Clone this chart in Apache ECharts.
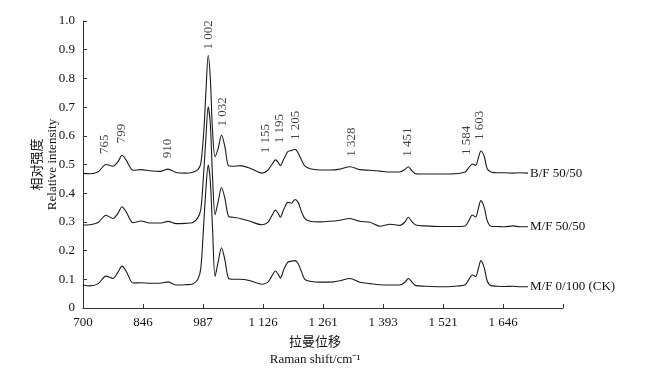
<!DOCTYPE html>
<html lang="zh">
<head>
    <meta charset="UTF-8">
    <title>Raman</title>
    <script src="https://cdn.jsdelivr.net/npm/echarts@6/dist/echarts.min.js"></script>
</head>
<body style="margin:0">
    <div id="ec" style="width:661px;height:371px"></div>
<script>
    // axis ticks of the figure are evenly spaced but their values are not
    var tickShift = [700, 846, 987, 1126, 1261, 1393, 1521, 1646, 1771]
    var tickText = ['700', '846', '987', '1 126', '1 261', '1 393', '1 521', '1 646', '']

    var shift = [700, 717, 737, 756, 773, 785, 795, 805, 822, 841, 862, 886, 905, 924, 945, 963, 975, 982, 989, 994,
        999, 1004, 1009, 1015, 1022, 1030, 1038, 1046, 1057, 1073, 1096, 1124, 1137, 1146, 1154, 1160, 1165, 1173, 1182, 1190,
        1198, 1205, 1213, 1220, 1232, 1254, 1276, 1298, 1320, 1342, 1364, 1386, 1408, 1429, 1440, 1447, 1455, 1463, 1482, 1515,
        1546, 1567, 1575, 1582, 1589, 1595, 1600, 1607, 1613, 1621, 1634, 1650, 1667, 1681, 1698]

    var bf = [0.469, 0.468, 0.475, 0.500, 0.494, 0.510, 0.532, 0.515, 0.480, 0.482, 0.478, 0.476, 0.484, 0.472, 0.470, 0.473, 0.482, 0.505, 0.62, 0.76,
        0.880, 0.80, 0.62, 0.527, 0.555, 0.603, 0.560, 0.496, 0.494, 0.496, 0.487, 0.470, 0.480, 0.500, 0.516, 0.508, 0.496, 0.520, 0.545, 0.549,
        0.553, 0.540, 0.515, 0.495, 0.485, 0.481, 0.481, 0.484, 0.492, 0.482, 0.480, 0.477, 0.474, 0.474, 0.483, 0.492, 0.478, 0.468, 0.467, 0.467,
        0.468, 0.474, 0.490, 0.502, 0.497, 0.525, 0.547, 0.528, 0.485, 0.474, 0.471, 0.471, 0.470, 0.471, 0.470]

    var mf = [0.289, 0.290, 0.298, 0.323, 0.312, 0.330, 0.353, 0.335, 0.297, 0.303, 0.296, 0.296, 0.302, 0.294, 0.295, 0.298, 0.315, 0.345, 0.48, 0.60,
        0.701, 0.64, 0.46, 0.325, 0.370, 0.420, 0.380, 0.320, 0.316, 0.312, 0.302, 0.290, 0.298, 0.322, 0.341, 0.330, 0.316, 0.345, 0.368, 0.365,
        0.378, 0.368, 0.335, 0.312, 0.302, 0.300, 0.302, 0.306, 0.312, 0.302, 0.299, 0.285, 0.292, 0.288, 0.300, 0.316, 0.300, 0.289, 0.286, 0.284,
        0.284, 0.286, 0.305, 0.324, 0.317, 0.350, 0.374, 0.350, 0.305, 0.285, 0.284, 0.283, 0.286, 0.283, 0.283]

    var ck = [0.080, 0.077, 0.085, 0.111, 0.103, 0.125, 0.146, 0.128, 0.087, 0.088, 0.086, 0.086, 0.091, 0.080, 0.081, 0.084, 0.100, 0.140, 0.30, 0.42,
        0.498, 0.44, 0.28, 0.110, 0.160, 0.210, 0.165, 0.104, 0.100, 0.100, 0.095, 0.083, 0.090, 0.112, 0.129, 0.118, 0.104, 0.135, 0.160, 0.163,
        0.165, 0.155, 0.125, 0.100, 0.093, 0.090, 0.090, 0.095, 0.103, 0.090, 0.085, 0.081, 0.080, 0.080, 0.090, 0.103, 0.090, 0.078, 0.076, 0.074,
        0.076, 0.081, 0.100, 0.115, 0.110, 0.140, 0.165, 0.140, 0.095, 0.078, 0.076, 0.075, 0.076, 0.074, 0.074]

    var peakText = ['765', '799', '910', '1 002', '1 032', '1 155', '1 195', '1 205', '1 328', '1 451', '1 584', '1 603']
    var peakShift = [753, 794, 903, 999, 1033, 1132, 1164, 1200, 1324, 1446, 1570, 1598]
    var peakY = [0.537, 0.574, 0.522, 0.901, 0.632, 0.539, 0.574, 0.585, 0.527, 0.527, 0.533, 0.585]

    var serif = '"Liberation Serif", "Noto Sans CJK SC", serif'

    function pos(s) {
        var i = 0
        while (i < tickShift.length - 2 && s > tickShift[i + 1]) i++
        return i + (s - tickShift[i]) / (tickShift[i + 1] - tickShift[i])
    }

    function spectrum(name, ys) {
        return {
            name: name,
            type: 'line',
            smooth: 0.3,
            symbol: 'none',
            lineStyle: { color: '#1a1a1a', width: 1.1 },
            data: shift.map(function (s, i) { return [pos(s), ys[i]] }),
            endLabel: { show: true, formatter: '{a}', color: '#111', fontFamily: serif, fontSize: 13, distance: 2 }
        }
    }

    var mychart = echarts.init(document.getElementById('ec'))
    var options = {
        animation: false,
        grid: { left: 83, right: 98, top: 21, bottom: 63, outerBoundsMode: 'none' },
        xAxis: {
            type: 'value',
            min: 0,
            max: 8,
            interval: 1,
            name: '拉曼位移\nRaman shift/cm⁻¹',
            nameLocation: 'middle',
            nameGap: 26,
            nameMoveOverlap: false,
            nameTextStyle: { color: '#111', fontFamily: serif, fontSize: 13, lineHeight: 17, padding: [0, 16, 0, 0] },
            axisLine: { lineStyle: { color: '#333' } },
            axisTick: { inside: true, length: 4, lineStyle: { color: '#333' } },
            axisLabel: { color: '#111', fontFamily: serif, fontSize: 13, formatter: function (v) { return tickText[v] } },
            splitLine: { show: false }
        },
        yAxis: {
            type: 'value',
            min: 0,
            max: 1,
            interval: 0.1,
            name: '相对强度\nRelative intensity',
            nameLocation: 'middle',
            nameRotate: 90,
            nameGap: 23,
            nameMoveOverlap: false,
            nameTextStyle: { color: '#111', fontFamily: serif, fontSize: 13, lineHeight: 15 },
            axisLine: { show: true, lineStyle: { color: '#333' } },
            axisTick: { show: true, inside: true, length: 4, lineStyle: { color: '#333' } },
            axisLabel: { color: '#111', fontFamily: serif, fontSize: 13, formatter: function (v) { return v === 0 ? '0' : v.toFixed(1) } },
            splitLine: { show: false }
        },
        series: [
            spectrum('B/F 50/50', bf),
            spectrum('M/F 50/50', mf),
            spectrum('M/F 0/100 (CK)', ck),
            {
                type: 'scatter',
                symbolSize: 0,
                silent: true,
                data: peakShift.map(function (s, i) {
                    return { value: [pos(s), peakY[i]], label: { formatter: peakText[i] } }
                }),
                label: {
                    show: true,
                    position: [0, 0],
                    rotate: 90,
                    align: 'left',
                    verticalAlign: 'middle',
                    color: '#111',
                    fontFamily: serif,
                    fontSize: 13
                }
            }
        ]
    }
    mychart.setOption(options)
</script>
</body>
</html>
